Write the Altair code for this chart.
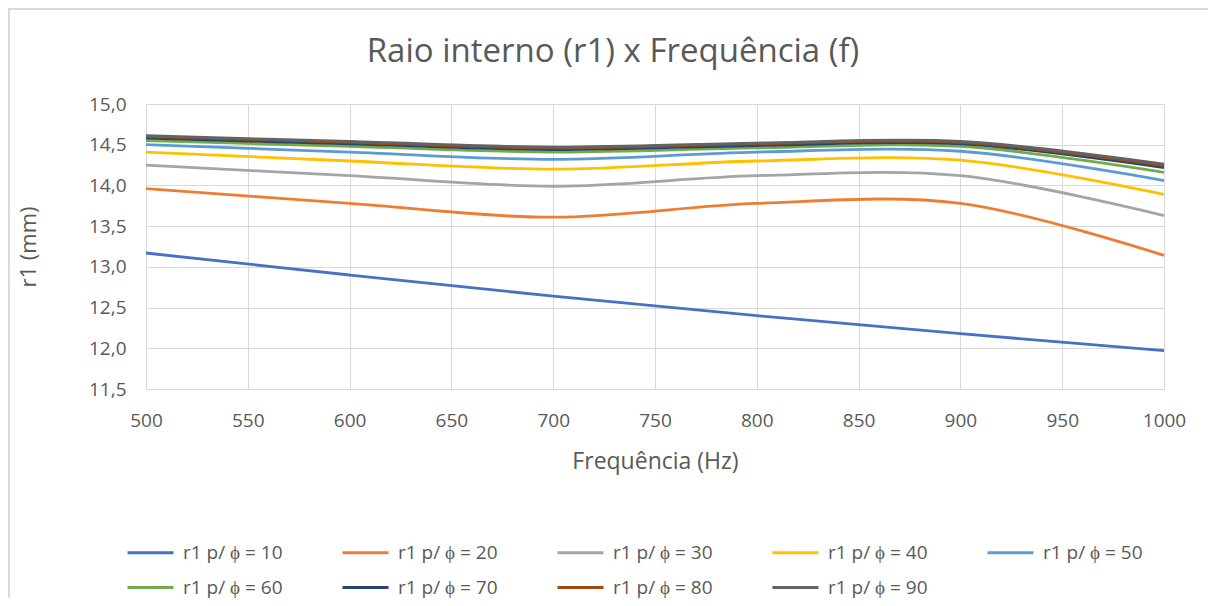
import altair as alt
import pandas as pd

freq = [500, 600, 700, 800, 900, 1000]
series_names = ["r1 p/ ϕ = 10", "r1 p/ ϕ = 20", "r1 p/ ϕ = 30", "r1 p/ ϕ  = 40", "r1 p/ ϕ  = 50",
                "r1 p/ ϕ = 60", "r1 p/ ϕ = 70", "r1 p/ ϕ = 80", "r1 p/ ϕ = 90"]
phi10 = [13.17, 12.90, 12.64, 12.40, 12.18, 11.97]
phi20 = [13.96, 13.78, 13.61, 13.78, 13.78, 13.14]
phi30 = [14.25, 14.12, 13.99, 14.12, 14.12, 13.63]
phi40 = [14.41, 14.30, 14.20, 14.30, 14.31, 13.89]
phi50 = [14.50, 14.41, 14.32, 14.41, 14.42, 14.06]
phi60 = [14.55, 14.48, 14.41, 14.46, 14.48, 14.16]
phi70 = [14.58, 14.51, 14.44, 14.49, 14.51, 14.22]
phi80 = [14.60, 14.53, 14.46, 14.51, 14.53, 14.24]
phi90 = [14.61, 14.54, 14.47, 14.52, 14.54, 14.26]
colors = ["#4472C4", "#ED7D31", "#A5A5A5", "#FFC000", "#5B9BD5",
          "#70AD47", "#264478", "#9E480E", "#636363"]

all_series = [phi10, phi20, phi30, phi40, phi50, phi60, phi70, phi80, phi90]
rows = []
for name, vals in zip(series_names, all_series):
    for f, v in zip(freq, vals):
        rows.append({"f": f, "r1": v, "serie": name})
df = pd.DataFrame(rows)

FONT = "Open Sans"
TXT = "#595959"

lines = alt.Chart(df).mark_line(strokeWidth=2.8, interpolate="catmull-rom").encode(
    x=alt.X("f:Q", title="Frequência (Hz)",
            scale=alt.Scale(domain=[500, 1000], nice=False),
            axis=alt.Axis(values=list(range(500, 1001, 50)), format="d", labelFontSize=19,
                          titleFontSize=23, labelColor=TXT, titleColor=TXT, labelFont=FONT,
                          titleFont=FONT, ticks=False, domain=False, grid=True,
                          gridColor="#d9d9d9", labelFlush=False, labelPadding=22,
                          titlePadding=20, titleFontWeight="normal")),
    y=alt.Y("r1:Q", title="r1 (mm)",
            scale=alt.Scale(domain=[11.5, 15.0], nice=False, zero=False),
            axis=alt.Axis(values=[11.5, 12.0, 12.5, 13.0, 13.5, 14.0, 14.5, 15.0],
                          labelExpr="replace(format(datum.value, '.1f'), '.', ',')",
                          labelFontSize=19, titleFontSize=22, labelColor=TXT, titleColor=TXT,
                          labelFont=FONT, titleFont=FONT, ticks=False, domain=False,
                          grid=True, gridColor="#d9d9d9", labelPadding=20, titlePadding=48,
                          labelFlush=False, titleFontWeight="normal")),
    color=alt.Color("serie:N", sort=series_names,
                    scale=alt.Scale(domain=series_names, range=colors),
                    legend=alt.Legend(title=None, orient="none", legendX=-20, legendY=424,
                                      columns=5, direction="horizontal",
                                      symbolType="stroke", symbolSize=2116,
                                      symbolStrokeWidth=2.8, labelFontSize=19, labelFont=FONT,
                                      labelColor=TXT, columnPadding=48, rowPadding=-5,
                                      gridAlign="all", labelOffset=8, labelLimit=300)),
)

border_top = alt.Chart(df).mark_rule(color="#d9d9d9", strokeWidth=1.5).encode(
    x=alt.value(-138), x2=alt.value(1075), y=alt.value(-95))
border_left = alt.Chart(df).mark_rule(color="#d9d9d9", strokeWidth=1.5).encode(
    x=alt.value(-137.5), y=alt.value(-95), y2=alt.value(510))

chart = alt.layer(border_top, border_left, lines).properties(
    width=1018, height=285,
    title=alt.Title("Raio interno (r1) x Frequência (f)", fontSize=33, font=FONT,
                    color=TXT, fontWeight="normal", anchor="middle", offset=-61, dx=-42,
                    frame="group"),
    autosize=alt.AutoSizeParams(type="none"),
    padding={"left": 138, "top": 96, "right": 44, "bottom": 209},
).configure_view(stroke=None).configure(background="white")

chart.save("out.html", embed_options={"renderer": "svg", "actions": False})
